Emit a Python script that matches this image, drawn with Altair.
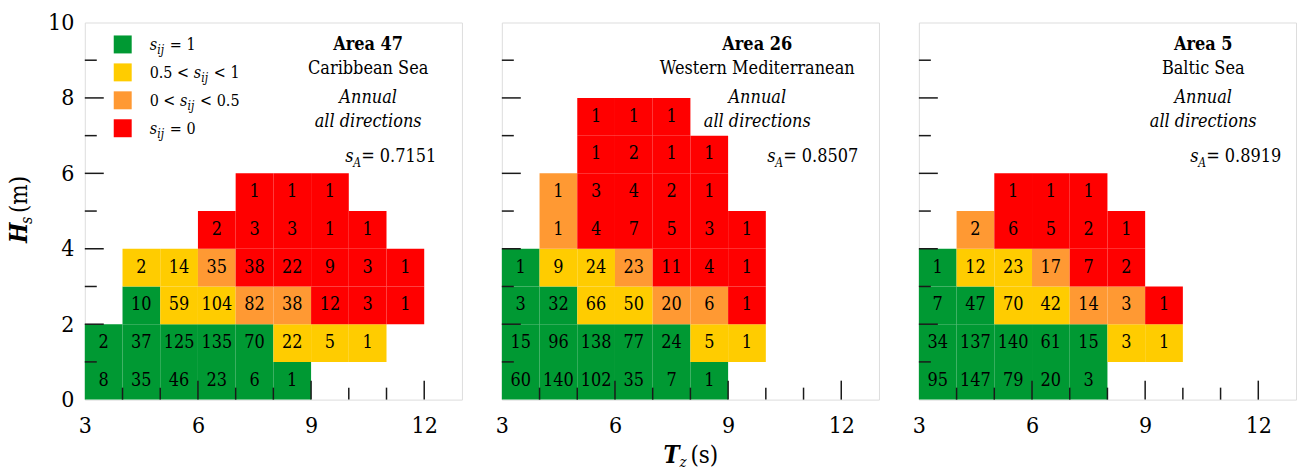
import altair as alt
import pandas as pd

FONT = "DejaVu Serif Condensed, DejaVu Serif"

# category codes: G: s_ij = 1, Y: 0.5 < s_ij < 1, O: 0 < s_ij < 0.5, R: s_ij = 0
CAT_DOMAIN = ["G", "Y", "O", "R"]
CAT_COLORS = ["#009933", "#FFCC00", "#FF9933", "#FF0000"]

# ---- Area 47, Caribbean Sea ----
a47_hs = [0, 1, 2, 3, 4, 5]
a47_tz_start = [3, 3, 4, 4, 6, 7]
a47_counts = [
    [8, 35, 46, 23, 6, 1],
    [2, 37, 125, 135, 70, 22, 5, 1],
    [10, 59, 104, 82, 38, 12, 3, 1],
    [2, 14, 35, 38, 22, 9, 3, 1],
    [2, 3, 3, 1, 1],
    [1, 1, 1],
]
a47_cats = ["GGGGGG", "GGGGGYYY", "GYYOORRR", "YYORRRRR", "RRRRR", "RRR"]

# ---- Area 26, Western Mediterranean ----
a26_hs = [0, 1, 2, 3, 4, 5, 6, 7]
a26_tz_start = [3, 3, 3, 3, 4, 4, 5, 5]
a26_counts = [
    [60, 140, 102, 35, 7, 1],
    [15, 96, 138, 77, 24, 5, 1],
    [3, 32, 66, 50, 20, 6, 1],
    [1, 9, 24, 23, 11, 4, 1],
    [1, 4, 7, 5, 3, 1],
    [1, 3, 4, 2, 1],
    [1, 2, 1, 1],
    [1, 1, 1],
]
a26_cats = ["GGGGGG", "GGGGGYY", "GGYYOOR", "GYYORRR", "ORRRRR", "ORRRR", "RRRR", "RRR"]

# ---- Area 5, Baltic Sea ----
a5_hs = [0, 1, 2, 3, 4, 5]
a5_tz_start = [3, 3, 3, 3, 4, 5]
a5_counts = [
    [95, 147, 79, 20, 3],
    [34, 137, 140, 61, 15, 3, 1],
    [7, 47, 70, 42, 14, 3, 1],
    [1, 12, 23, 17, 7, 2],
    [2, 6, 5, 2, 1],
    [1, 1, 1],
]
a5_cats = ["GGGGG", "GGGGGYY", "GGYYOOR", "GYYORR", "ORRRR", "RRR"]

area_titles = ["Area 47", "Area 26", "Area 5"]
sea_names = ["Caribbean Sea", "Western Mediterranean", "Baltic Sea"]
sa_values = ["= 0.7151", "= 0.8507", "= 0.8919"]

x_ticklabels = [3, 6, 9, 12]
y_ticklabels = [0, 2, 4, 6, 8, 10]
x_major = [6, 9, 12]
x_minor = [4, 5, 7, 8, 10, 11]
y_major = [2, 4, 6, 8]
y_minor = [1, 3, 5, 7, 9]

legend_cats = ["G", "Y", "O", "R"]
# legend label pieces: (text, kind) kind: n normal, s italic, b subscript italic
legend_pieces = [
    [("s", "s"), ("ij", "b"), (" = 1", "n")],
    [("0.5 < ", "n"), ("s", "s"), ("ij", "b"), (" < 1", "n")],
    [("0 < ", "n"), ("s", "s"), ("ij", "b"), (" < 0.5", "n")],
    [("s", "s"), ("ij", "b"), (" = 0", "n")],
]

W, H = 378, 378
TICK = "#1a1a1a"
LEG_SIZE, SUB_SIZE = 16, 12

# approximate advance widths (em) of the condensed serif font
CW = {".": 0.286, " ": 0.286, "<": 0.754, "=": 0.754, "s": 0.48, "i": 0.29, "j": 0.29}


def tw(t, size):
    return sum(CW.get(c, 0.572) for c in t) * size


def build_df(hs, tz_start, counts, cats):
    rows = []
    for h, t0, cs, cc in zip(hs, tz_start, counts, cats):
        for k, (c, cat) in enumerate(zip(cs, cc)):
            tz = t0 + k
            rows.append(dict(tz0=tz, tz1=tz + 1, hs0=h, hs1=h + 1,
                             tc=tz + 0.5, hc=h + 0.5, count=c, cat=cat))
    return pd.DataFrame(rows)


xs = alt.Scale(domain=[3, 13], nice=False, zero=False)
ys = alt.Scale(domain=[0, 10], nice=False, zero=False)
x_axis = alt.Axis(values=x_ticklabels, labelFont=FONT, labelFontSize=23, labelColor="black",
                  labelPadding=15, ticks=False, tickSize=0, domain=False, grid=False,
                  title=None, labelFlush=False, labelOverlap=False)
y_axis = alt.Axis(values=y_ticklabels, labelFont=FONT, labelFontSize=23, labelColor="black",
                  labelPadding=11, ticks=False, tickSize=0, domain=False, grid=False,
                  title=None, labelFlush=False, labelOverlap=False)


def txt(text, x, y, size=18, style="normal", weight="normal", align="left", angle=0):
    kw = dict(font=FONT, fontSize=size, fontStyle=style, fontWeight=weight,
              align=align, baseline="alphabetic", color="black")
    if angle:
        kw["angle"] = angle
    return alt.Chart(pd.DataFrame({"t": [text]})).mark_text(**kw).encode(
        x=alt.value(x), y=alt.value(y), text="t:N")


def panel(df, idx, cx, s_x, show_y, show_xtitle, show_legend):
    yax = y_axis if show_y else None
    base = alt.Chart(df)
    rect = base.mark_rect().encode(
        x=alt.X("tz0:Q", scale=xs, axis=x_axis), x2="tz1:Q",
        y=alt.Y("hs0:Q", scale=ys, axis=yax), y2="hs1:Q",
        color=alt.Color("cat:N", scale=alt.Scale(domain=CAT_DOMAIN, range=CAT_COLORS), legend=None),
    )
    nums = base.mark_text(font=FONT, fontSize=18, baseline="middle", color="black").encode(
        x=alt.X("tc:Q", scale=xs, axis=x_axis),
        y=alt.Y("hc:Q", scale=ys, axis=yax),
        text="count:Q",
    )
    layers = [rect, nums]
    for vals, ln in [(x_major, 19), (x_minor, 12)]:
        layers.append(alt.Chart(pd.DataFrame({"v": vals})).mark_rule(color=TICK, strokeWidth=1.5).encode(
            x=alt.X("v:Q", scale=xs, axis=x_axis), y=alt.value(H), y2=alt.value(H - ln)))
    for vals, ln in [(y_major, 19), (y_minor, 12)]:
        layers.append(alt.Chart(pd.DataFrame({"v": vals})).mark_rule(color=TICK, strokeWidth=1.5).encode(
            y=alt.Y("v:Q", scale=ys, axis=yax), x=alt.value(0), x2=alt.value(ln)))
    # annotations
    layers.append(txt(area_titles[idx], cx, 28, weight="bold", align="center"))
    layers.append(txt(sea_names[idx], cx, 52, align="center"))
    layers.append(txt("Annual", cx, 81, style="italic", align="center"))
    layers.append(txt("all directions", cx, 105, style="italic", align="center"))
    layers.append(txt("s", s_x, 140, style="italic"))
    layers.append(txt("A", s_x + 8, 145, size=12, style="italic"))
    layers.append(txt(sa_values[idx], s_x + 16, 140))
    if show_legend:
        for r, (cat, pieces) in enumerate(zip(legend_cats, legend_pieces)):
            yc = 22 + 28 * r
            layers.append(alt.Chart(pd.DataFrame({"cat": [cat]})).mark_square(size=324, opacity=1).encode(
                x=alt.value(38), y=alt.value(yc),
                color=alt.Color("cat:N", scale=alt.Scale(domain=CAT_DOMAIN, range=CAT_COLORS), legend=None)))
            pos = 65.0
            for t, kind in pieces:
                lead = len(t) - len(t.lstrip(" "))
                pos += tw(" " * lead, LEG_SIZE)
                core = t.strip(" ")
                if kind == "b":
                    layers.append(txt(core, pos, yc + 10, size=SUB_SIZE, style="italic"))
                    pos += tw(core, SUB_SIZE) + 1
                else:
                    layers.append(txt(core, pos, yc + 6, size=LEG_SIZE,
                                      style="italic" if kind == "s" else "normal"))
                    pos += tw(core, LEG_SIZE)
                pos += tw(" " * (len(t) - len(t.rstrip(" "))), LEG_SIZE)
    if show_y:
        layers.append(txt("H", -58, 221, size=24, style="italic", weight="bold", angle=270))
        layers.append(txt("s", -53, 202, size=16, style="italic", angle=270))
        layers.append(txt("(m)", -58, 191, size=24, angle=270))
    if show_xtitle:
        layers.append(txt("T", 162, 442, size=24, style="italic", weight="bold"))
        layers.append(txt("z", 178, 446, size=15, style="italic"))
        layers.append(txt("(s)", 189, 442, size=24))
    return alt.layer(*layers).properties(width=W, height=H)


p1 = panel(build_df(a47_hs, a47_tz_start, a47_counts, a47_cats), 0, 284, 261, True, False, True)
p2 = panel(build_df(a26_hs, a26_tz_start, a26_counts, a26_cats), 1, 256, 266, False, True, False)
p3 = panel(build_df(a5_hs, a5_tz_start, a5_counts, a5_cats), 2, 285, 272, False, False, False)

chart = alt.hconcat(p1, p2, p3, spacing=31).properties(
    padding={"left": 7, "top": 10, "right": 0, "bottom": 0}
).configure_view(stroke="#3c3c3c", strokeWidth=1.8).configure(background="white")

chart.save("out.html", embed_options={"renderer": "svg", "actions": False})
